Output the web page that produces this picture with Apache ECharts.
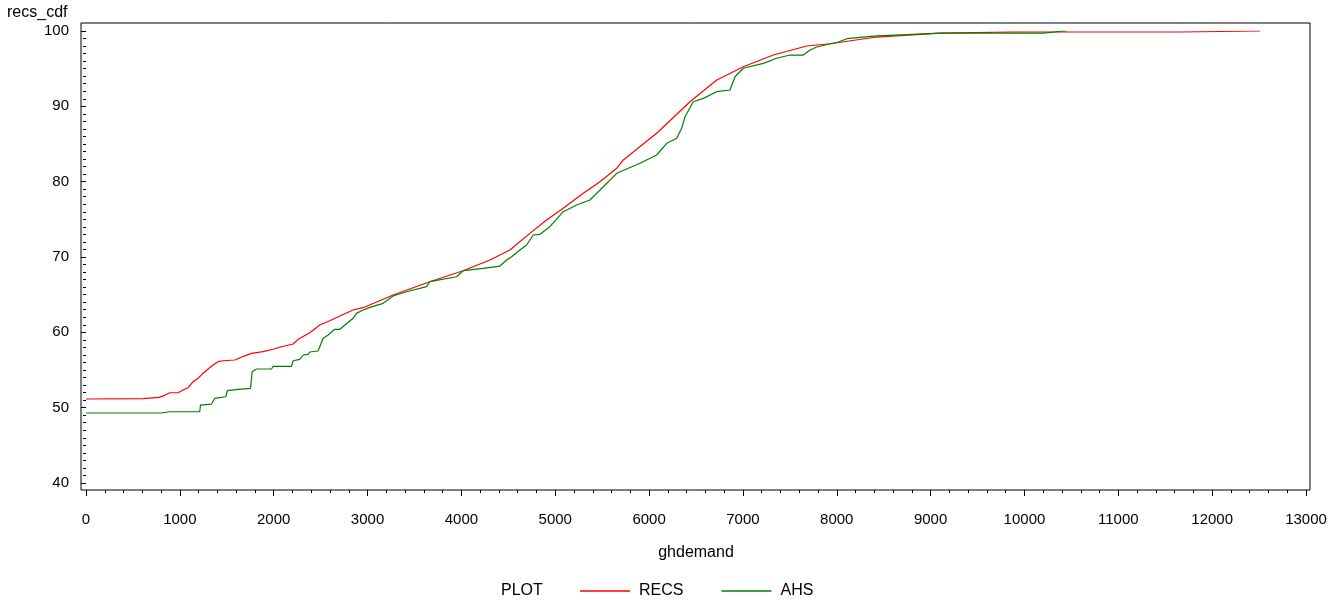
<!DOCTYPE html>
<html>
<head>
<meta charset="utf-8">
<script src="https://cdn.jsdelivr.net/npm/echarts@6/dist/echarts.min.js"></script>
<style>html,body{margin:0;padding:0;background:#fff;}#c{width:1343px;height:603px;}</style>
</head>
<body>
<div id="c"></div>
<script>
// ---- data ----
const xTicks = { min: 0, max: 13000, step: 1000 };
const yTicks = { min: 40, max: 100, step: 10 };
const seriesNames = ['RECS', 'AHS'];

const recsX = [0, 608, 626, 778, 839, 892, 981, 1034, 1087, 1141, 1194, 1247, 1301, 1354, 1407, 1461, 1585, 1639, 1763, 1887, 1994, 2012, 2083, 2207, 2260, 2385, 2491, 2598, 2705, 2846, 2953, 3273, 3664, 4019, 4304, 4517, 4730, 4908, 5085, 5299, 5477, 5655, 5725, 6081, 6436, 6721, 7004, 7324, 7680, 7929, 8426, 9101, 9880, 11660, 11680, 12513];
const recsY = [51.15, 51.19, 51.37, 51.37, 51.64, 51.98, 51.98, 52.34, 52.65, 53.44, 53.89, 54.56, 55.13, 55.66, 56.10, 56.23, 56.33, 56.63, 57.21, 57.43, 57.75, 58.01, 58.09, 58.45, 59.07, 59.95, 60.97, 61.54, 62.17, 62.96, 63.27, 64.95, 66.72, 68.18, 69.60, 70.93, 73.14, 74.91, 76.46, 78.45, 80.00, 81.77, 82.88, 86.42, 90.61, 93.50, 95.26, 96.81, 98.01, 98.31, 99.20, 99.73, 99.87, 99.87, 100, 100];

const ahsX = [0, 804, 892, 1212, 1220, 1337, 1372, 1489, 1507, 1621, 1753, 1770, 1817, 1977, 1994, 2190, 2207, 2278, 2313, 2367, 2385, 2473, 2527, 2580, 2651, 2705, 2846, 2883, 2936, 3025, 3166, 3273, 3416, 3629, 3664, 3949, 4019, 4232, 4410, 4482, 4535, 4624, 4695, 4765, 4837, 4943, 5085, 5228, 5370, 5512, 5655, 5903, 6081, 6188, 6294, 6347, 6383, 6471, 6578, 6721, 6862, 6916, 7004, 7217, 7360, 7502, 7644, 7715, 7787, 8017, 8107, 8426, 8746, 9101, 10203, 10416, 10452];
const ahsY = [49.29, 49.29, 49.46, 49.46, 50.35, 50.48, 51.24, 51.45, 52.25, 52.43, 52.57, 54.77, 55.13, 55.13, 55.49, 55.49, 56.23, 56.42, 56.99, 57.08, 57.39, 57.52, 59.21, 59.64, 60.40, 60.40, 61.86, 62.52, 62.87, 63.32, 63.85, 64.82, 65.39, 66.06, 66.72, 67.38, 68.18, 68.50, 68.80, 69.60, 70.04, 70.93, 71.59, 72.92, 73.01, 74.02, 76.01, 76.90, 77.57, 79.33, 81.11, 82.44, 83.54, 85.09, 85.76, 87.08, 88.62, 90.61, 91.06, 91.94, 92.17, 93.93, 95.05, 95.71, 96.38, 96.81, 96.81, 97.48, 97.88, 98.54, 98.98, 99.34, 99.51, 99.73, 99.73, 100, 100];

const pairs = (xs, ys) => xs.map((x, i) => [x, ys[i]]);

const FONT = "'Liberation Sans', Arial, sans-serif";
const FS = 16;
const FT = 15;
const chart = echarts.init(document.getElementById('c'), null, { renderer: 'canvas' });
chart.setOption({
  animation: false,
  backgroundColor: '#ffffff',
  textStyle: { fontFamily: FONT },
  title: [
    { text: 'recs_cdf', left: 7, top: 5, padding: 0, textStyle: { fontFamily: FONT, fontSize: FS, fontWeight: 'normal', color: '#000' } },
    { text: 'PLOT', left: 501, top: 583, padding: 0, textStyle: { fontFamily: FONT, fontSize: FS, fontWeight: 'normal', color: '#000' } }
  ],
  legend: {
    data: seriesNames,
    left: 580, top: 583, padding: 0,
    icon: 'rect',
    itemWidth: 50, itemHeight: 1.5, itemGap: 38,
    textStyle: { fontFamily: FONT, fontSize: FS, color: '#000', padding: [0, 0, 0, 4] }
  },
  grid: [
    { left: 81, right: 33, top: 23, bottom: 113, show: true, borderColor: '#000', borderWidth: 1, backgroundColor: 'transparent' },
    { left: 86, right: 37, top: 31, bottom: 120 }
  ],
  xAxis: [
    { gridIndex: 0, type: 'value', show: false, min: 0, max: 1 },
    {
      gridIndex: 1, type: 'value', min: xTicks.min, max: xTicks.max, interval: xTicks.step,
      offset: 7,
      axisLine: { show: false },
      axisTick: { show: true, length: 6, lineStyle: { color: '#000' } },
      minorTick: { show: true, splitNumber: 5, length: 3, lineStyle: { color: '#000' } },
      splitLine: { show: false },
      axisLabel: { color: '#000', fontSize: FT, fontFamily: FONT, margin: 22, formatter: v => String(v) },
      name: 'ghdemand', nameLocation: 'middle', nameGap: 55,
      nameTextStyle: { color: '#000', fontSize: FS, fontFamily: FONT }
    }
  ],
  yAxis: [
    { gridIndex: 0, type: 'value', show: false, min: 0, max: 1 },
    {
      gridIndex: 1, type: 'value', min: yTicks.min, max: yTicks.max, interval: yTicks.step,
      offset: 5,
      axisLine: { show: false },
      axisTick: { show: true, length: 5, lineStyle: { color: '#000' } },
      minorTick: { show: true, splitNumber: 10, length: 3, lineStyle: { color: '#000' } },
      splitLine: { show: false },
      axisLabel: { color: '#000', fontSize: FT, fontFamily: FONT, margin: 12, formatter: v => String(v) }
    }
  ],
  series: [
    { name: seriesNames[0], type: 'line', xAxisIndex: 1, yAxisIndex: 1, data: pairs(recsX, recsY),
      symbol: 'none', lineStyle: { color: '#ff0000', width: 1.2 }, itemStyle: { color: '#ff0000' }, z: 3 },
    { name: seriesNames[1], type: 'line', xAxisIndex: 1, yAxisIndex: 1, data: pairs(ahsX, ahsY),
      symbol: 'none', lineStyle: { color: '#008000', width: 1.2 }, itemStyle: { color: '#008000' }, z: 4 }
  ]
});
</script>
</body>
</html>
